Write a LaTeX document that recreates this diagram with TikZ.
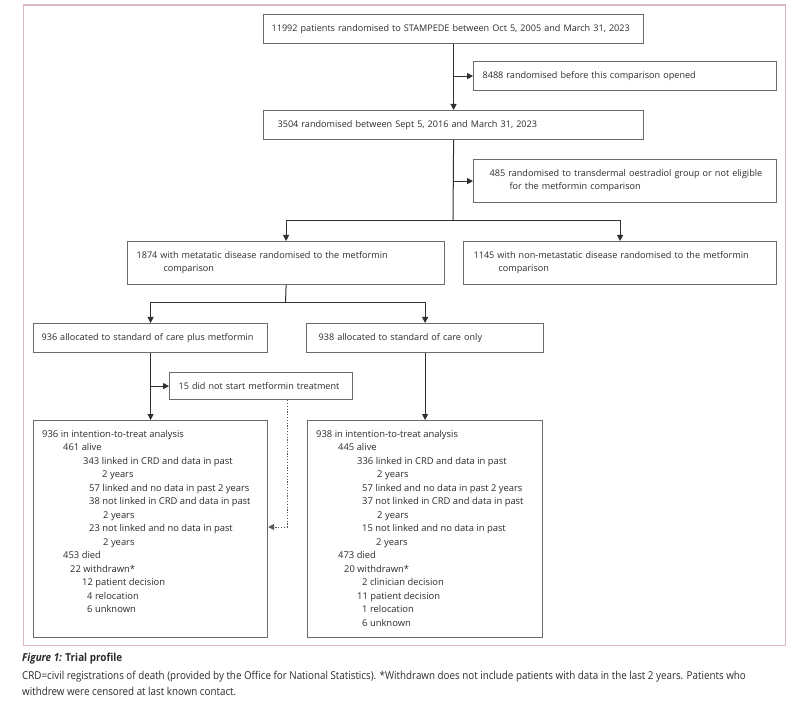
\documentclass[tikz,border=0pt]{standalone}
\usepackage{fontspec}
\setmainfont{Open Sans}
\newfontfamily\capfont[FakeStretch=0.9]{Open Sans}
\usetikzlibrary{arrows.meta,calc}
\definecolor{framepink}{HTML}{DDB8C4}
\definecolor{boxgray}{HTML}{6A6A6A}
\definecolor{linegray}{HTML}{303030}
\definecolor{txtgray}{HTML}{2C2C2C}
\tikzset{
  box/.style={draw=boxgray, line width=1.2pt, rectangle, anchor=north west,
    inner xsep=8pt, inner ysep=0pt, align=left, text=txtgray,
    font=\fontsize{9.1}{13}\selectfont},
  ittbox/.style={draw=boxgray, line width=1.2pt, rectangle, anchor=north west, inner sep=0pt},
  itttext/.style={anchor=north west, inner sep=0pt, align=left, text=txtgray,
    font=\fontsize{9.4}{13.5}\selectfont},
  ln/.style={draw=linegray, line width=1pt},
  arr/.style={draw=linegray, line width=1pt, -{Triangle[length=6pt,width=6pt]}},
  dotarr/.style={draw=linegray!80, line width=1pt, dash pattern=on 1.2pt off 1.6pt,
    -{Triangle[length=6pt,width=6pt]}},
  captext/.style={anchor=north west, inner sep=0pt, align=left, text=txtgray}
}
\begin{document}
\begin{tikzpicture}[x=1pt,y=-1pt]
\useasboundingbox (0,0) rectangle (800,708);
\fill[white] (0,0) rectangle (800,708);
\node[draw=framepink, line width=1.3pt, rectangle, anchor=north west, inner sep=0pt,
  minimum width=762.5pt, minimum height=640.5pt] (frame) at (22.5,4.5) {};

% top boxes
\node[box, minimum width=380pt, minimum height=29pt, text width=364pt] (b1) at (263,14)
  {11992 patients randomised to STAMPEDE between Oct 5, 2005 and March 31, 2023};
\node[box, minimum width=303pt, minimum height=29pt, text width=287pt] (s1) at (473,61)
  {\hspace*{1pt}8488 randomised before this comparison opened};
\node[box, minimum width=380pt, minimum height=29pt, text width=364pt] (b2) at (263,110)
  {\hspace*{6pt}3504 randomised between Sept 5, 2016 and March 31, 2023};
\node[box, minimum width=303pt, minimum height=43pt, text width=287pt] (s2) at (473,159)
  {\hspace*{8pt}485 randomised to transdermal oestradiol group or not eligible\\
   \hspace*{28pt}for the metformin comparison};
\node[box, minimum width=317pt, minimum height=43pt, text width=301pt] (m1) at (127,241)
  {\hspace*{1pt}1874 with metatatic disease randomised to the metformin\\
   \hspace*{28pt}comparison};
\node[box, minimum width=313pt, minimum height=43pt, text width=297pt] (m2) at (463,241)
  {\hspace*{2pt}1145 with non-metastatic disease randomised to the metformin\\
   \hspace*{27pt}comparison};
\node[box, minimum width=234pt, minimum height=29pt, text width=218pt] (a1) at (33,323)
  {936 allocated to standard of care plus metformin};
\node[box, minimum width=237pt, minimum height=29pt, text width=221pt] (a2) at (306,323)
  {\hspace*{4pt}938 allocated to standard of care only};
\node[box, minimum width=183pt, minimum height=27pt, text width=167pt] (s3) at (169,372)
  {\hspace*{1pt}15 did not start metformin treatment};

% ITT boxes
\node[ittbox, minimum width=234pt, minimum height=217pt] (i1) at (33,420) {};
\node[ittbox, minimum width=235pt, minimum height=217pt] (i2) at (307,420) {};
\node[itttext] (t1) at (42,430) {%
936 in intention-to-treat analysis\\
\hspace*{21pt}461 alive\\
\hspace*{41pt}343 linked in CRD and data in past\\
\hspace*{60pt}2 years\\
\hspace*{47pt}57 linked and no data in past 2 years\\
\hspace*{47pt}38 not linked in CRD and data in past\\
\hspace*{61pt}2 years\\
\hspace*{47pt}23 not linked and no data in past\\
\hspace*{61pt}2 years\\
\hspace*{21pt}453 died\\
\hspace*{28pt}22 withdrawn*\\
\hspace*{40pt}12 patient decision\\
\hspace*{45pt}4 relocation\\
\hspace*{45pt}6 unknown};
\node[itttext] (t2) at (316,430) {%
938 in intention-to-treat analysis\\
\hspace*{22pt}445 alive\\
\hspace*{41pt}336 linked in CRD and data in past\\
\hspace*{61pt}2 years\\
\hspace*{46pt}57 linked and no data in past 2 years\\
\hspace*{46pt}37 not linked in CRD and data in past\\
\hspace*{61pt}2 years\\
\hspace*{46pt}15 not linked and no data in past\\
\hspace*{60pt}2 years\\
\hspace*{22pt}473 died\\
\hspace*{28pt}20 withdrawn*\\
\hspace*{46pt}2 clinician decision\\
\hspace*{41pt}11 patient decision\\
\hspace*{46pt}1 relocation\\
\hspace*{46pt}6 unknown};

% connectors
\draw[arr] (b1.south) -- (b2.north);
\draw[arr] (b1.south |- s1.west) -- (s1.west);
\coordinate (sp1) at (453,221);
\draw[ln] (b2.south) -- (sp1);
\draw[arr] (b2.south |- s2.west) -- (s2.west);
\draw[arr] (sp1) -| (m1.north);
\draw[arr] (sp1) -| (m2.north);
\coordinate (sp2) at (285.5,303);
\draw[ln] (m1.south) -- (sp2);
\draw[arr] (sp2) -| (a1.north);
\draw[arr] (sp2) -| (a2.north);
\draw[arr] (a1.south) -- (i1.north);
\draw[arr] (a1.south |- s3.west) -- (s3.west);
\draw[arr] (a2.south) -- (i2.north);
\coordinate (db) at (287,527);
\draw[dotarr] (s3.south -| db) -- (db) -- (db -| i1.east);

% caption
\node[captext, font=\capfont\fontsize{11}{16}\selectfont\bfseries] (cap1) at (22,653)
  {\textit{Figure 1:} Trial profile};
\node[captext, font=\capfont\fontsize{10.9}{16}\selectfont] (cap2) at (22,671)
  {CRD=civil registrations of death (provided by the Office for National Statistics). *Withdrawn does not include patients with data in the last 2 years. Patients who\\
   withdrew were censored at last known contact.};
\end{tikzpicture}
\end{document}
